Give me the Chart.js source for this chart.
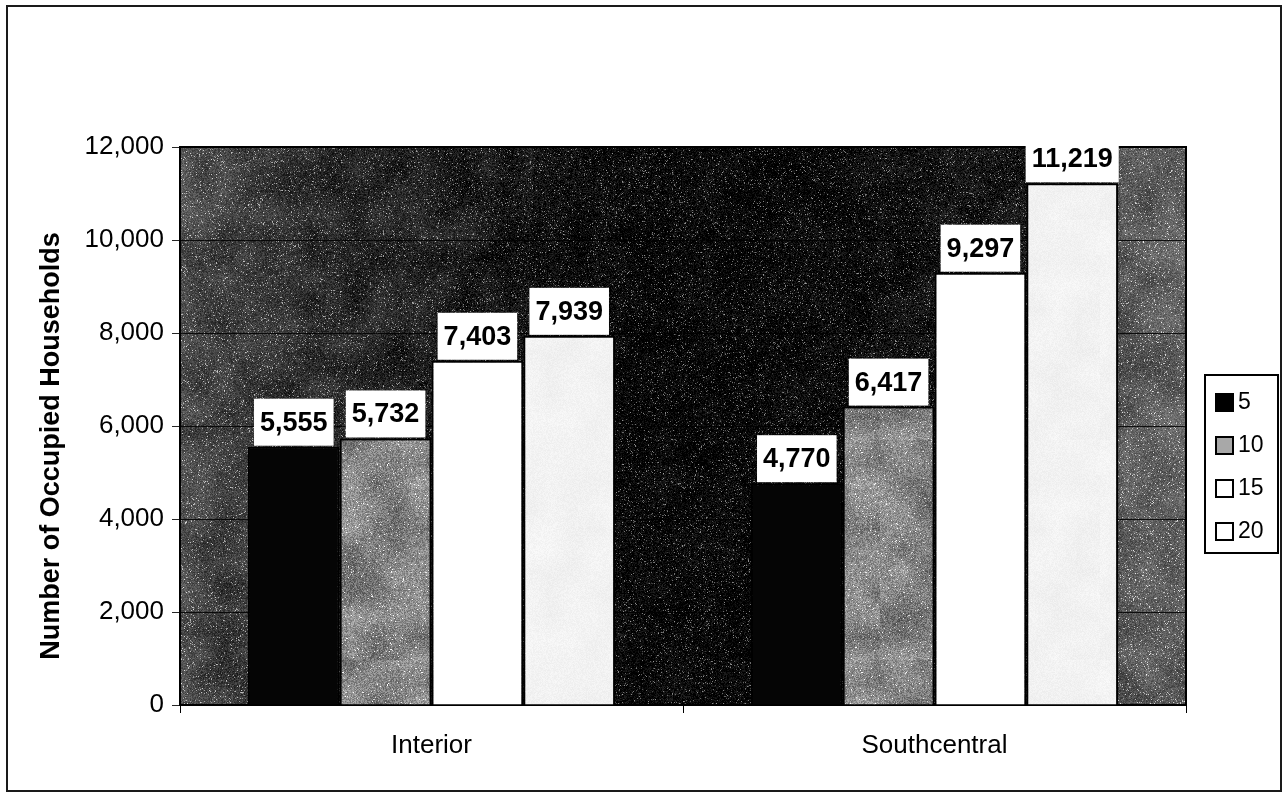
<!DOCTYPE html>
<html lang="en">
<head>
  <meta charset="UTF-8" />
  <title>Occupied Households</title>
  <script src="https://cdn.jsdelivr.net/npm/chart.js"></script>
  <style>
    body { margin: 0; background: #fff; }
    #wrap { width: 1287px; height: 795px; }
  </style>
</head>
<body>
  <div id="wrap"><canvas id="households" width="1287" height="795"></canvas></div>

  <script>
    const categories = ['Interior', 'Southcentral']
    const seriesNames = ['5', '10', '15', '20']
    const values5 = [5555, 4770]
    const values10 = [5732, 6417]
    const values15 = [7403, 9297]
    const values20 = [7939, 11219]
    const yMax = 12000
    const yStep = 2000
    const yTitle = 'Number of Occupied Households'

    // small seeded generator so the grain looks the same on every load
    function rng(seed) {
      return function () {
        seed = (seed + 0x6D2B79F5) | 0
        let t = Math.imul(seed ^ (seed >>> 15), 1 | seed)
        t = (t + Math.imul(t ^ (t >>> 7), 61 | t)) ^ t
        return ((t ^ (t >>> 14)) >>> 0) / 4294967296
      }
    }

    // coarse value noise for blotchy shading
    function blotches(w, h, cell, seed) {
      const r = rng(seed)
      const gw = Math.ceil(w / cell) + 2, gh = Math.ceil(h / cell) + 2
      const grid = []
      for (let i = 0; i < gw * gh; i++) grid.push(r() - 0.5)
      return function (x, y) {
        const gx = x / cell, gy = y / cell
        const x0 = Math.floor(gx), y0 = Math.floor(gy)
        const fx = gx - x0, fy = gy - y0
        const a = grid[y0 * gw + x0], b = grid[y0 * gw + x0 + 1]
        const c = grid[(y0 + 1) * gw + x0], d = grid[(y0 + 1) * gw + x0 + 1]
        return (a * (1 - fx) + b * fx) * (1 - fy) + (c * (1 - fx) + d * fx) * fy
      }
    }

    function grainCanvas(w, h, shade, blotAmp, amp, speck, seed) {
      const c = document.createElement('canvas')
      c.width = w; c.height = h
      const g = c.getContext('2d')
      const img = g.createImageData(w, h)
      const r = rng(seed)
      const blot = blotches(w, h, 22, seed + 11)
      for (let y = 0; y < h; y++) {
        for (let x = 0; x < w; x++) {
          const s = shade(x, y)
          let v = s + blot(x, y) * blotAmp * Math.min(1, s / 40 + 0.3) + (r() - 0.5) * amp
          if (r() < speck) v += 60 + r() * 70
          v = Math.max(0, Math.min(255, v))
          const k = (y * w + x) * 4
          img.data[k] = img.data[k + 1] = img.data[k + 2] = v
          img.data[k + 3] = 255
        }
      }
      g.putImageData(img, 0, 0)
      return c
    }

    function grainPattern(base, blotAmp, amp, speck, seed) {
      const c = grainCanvas(220, 220, () => base, blotAmp, amp, speck, seed)
      return document.createElement('canvas').getContext('2d').createPattern(c, 'repeat')
    }

    // horizontal shading of the plot background, by fraction of width
    const bgProfile = [[0, 72], [0.05, 54], [0.15, 36], [0.3, 16], [0.45, 6], [0.6, 6], [0.75, 16], [0.9, 30], [0.925, 36], [0.935, 88], [1, 96]]
    function bgShade(f) {
      for (let i = 1; i < bgProfile.length; i++) {
        if (f <= bgProfile[i][0]) {
          const [f0, v0] = bgProfile[i - 1], [f1, v1] = bgProfile[i]
          return v0 + (v1 - v0) * (f - f0) / (f1 - f0)
        }
      }
      return bgProfile[bgProfile.length - 1][1]
    }

    let plotBg = null

    const decor = {
      id: 'decor',
      beforeDraw(chart) {
        const { ctx, chartArea: a } = chart
        ctx.save()
        ctx.fillStyle = '#fff'
        ctx.fillRect(0, 0, chart.width, chart.height)
        ctx.strokeStyle = '#1a1a1a'
        ctx.lineWidth = 2
        ctx.strokeRect(7, 6, 1274, 785)
        const w = Math.round(a.right - a.left), h = Math.round(a.bottom - a.top)
        if (!plotBg) {
          plotBg = grainCanvas(w, h, (x, y) => bgShade(x / w) + (x < w * 0.35 ? 10 * (1 - y / h) : 0), 36, 50, 0.06, 7)
        }
        ctx.drawImage(plotBg, a.left, a.top)

        // value axis title, a little below the middle of the plot
        ctx.translate(52, 446)
        ctx.rotate(-Math.PI / 2)
        ctx.font = 'bold 27px "Liberation Sans", Arial, sans-serif'
        ctx.fillStyle = '#000'
        ctx.textAlign = 'center'
        ctx.textBaseline = 'middle'
        ctx.fillText(yTitle, 0, 0)
        ctx.restore()
      },
      beforeDatasetsDraw(chart) {
        const { ctx, chartArea: a } = chart
        ctx.save()
        ctx.strokeStyle = '#000'
        ctx.lineWidth = 2
        ctx.strokeRect(a.left, a.top, a.right - a.left, a.bottom - a.top)
        ctx.restore()
      },
      afterDatasetsDraw(chart) {
        // value boxes sitting on top of each bar
        const ctx = chart.ctx
        ctx.save()
        ctx.font = 'bold 27px "Liberation Sans", Arial, sans-serif'
        ctx.textAlign = 'center'
        ctx.textBaseline = 'middle'
        chart.data.datasets.forEach((ds, i) => {
          chart.getDatasetMeta(i).data.forEach((bar, j) => {
            const text = ds.data[j].toLocaleString('en-US')
            const bw = ctx.measureText(text).width + 12
            const bh = 47
            ctx.fillStyle = '#fff'
            ctx.fillRect(bar.x - bw / 2, bar.y - bh - 1, bw, bh)
            ctx.fillStyle = '#000'
            ctx.fillText(text, bar.x, bar.y - bh / 2)
          })
        })
        ctx.restore()
      },
      afterDraw(chart) {
        // legend box on the right
        const ctx = chart.ctx
        ctx.save()
        ctx.strokeStyle = '#000'
        ctx.lineWidth = 2
        ctx.strokeRect(1205, 375, 73, 178)
        ctx.font = '23px "Liberation Sans", Arial, sans-serif'
        ctx.textBaseline = 'middle'
        chart.data.datasets.forEach((ds, i) => {
          const y = 402 + i * 43
          ctx.fillStyle = ds.legendFill
          ctx.fillRect(1216, y - 8, 17, 17)
          ctx.strokeRect(1216, y - 8, 17, 17)
          ctx.fillStyle = '#000'
          ctx.fillText(ds.label, 1238, y + 1)
        })
        ctx.restore()
      }
    }

    const fills = [
      '#050505',
      grainPattern(132, 60, 70, 0.03, 21),
      '#ffffff',
      grainPattern(242, 8, 10, 0, 33)
    ]
    const legendFills = ['#000', '#a8a8a8', '#fff', '#fff']
    const seriesValues = [values5, values10, values15, values20]

    Chart.defaults.font.family = '"Liberation Sans", Arial, sans-serif'
    Chart.defaults.color = '#000'

    new Chart(document.getElementById('households'), {
      type: 'bar',
      data: {
        labels: categories,
        datasets: seriesNames.map((name, i) => ({
          label: name,
          data: seriesValues[i],
          backgroundColor: fills[i],
          legendFill: legendFills[i],
          borderColor: '#000',
          borderWidth: 2,
          categoryPercentage: 0.73,
          barPercentage: 1.0
        }))
      },
      options: {
        responsive: false,
        animation: false,
        layout: { padding: { top: 147, right: 101, bottom: 0, left: 30 } },
        plugins: { legend: { display: false }, tooltip: { enabled: false } },
        scales: {
          x: {
            afterFit: s => { s.height = 90 },
            grid: { drawOnChartArea: false, color: '#000', tickLength: 8 },
            border: { color: '#000', width: 2 },
            ticks: { font: { size: 26 }, padding: 17 }
          },
          y: {
            min: 0,
            max: yMax,
            afterFit: s => { s.width = 150 },
            grid: { color: 'rgba(0,0,0,0.85)', tickLength: 8 },
            border: { color: '#000', width: 2 },
            ticks: { stepSize: yStep, font: { size: 26 }, padding: 8 }
          }
        }
      },
      plugins: [decor]
    })
  </script>
</body>
</html>
